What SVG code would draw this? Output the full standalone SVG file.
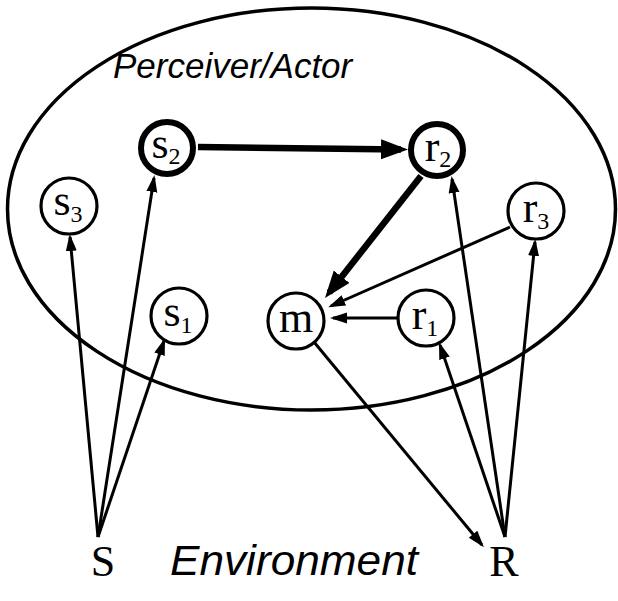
<svg xmlns="http://www.w3.org/2000/svg" width="618" height="601" viewBox="0 0 618 601">
  <style>
    .node circle { fill: #fff; stroke: #000; stroke-width: 3.2; }
    .node.bold circle { stroke-width: 6; }
    .lbl { font-family: "Liberation Serif", "Times New Roman", serif; font-size: 44px; fill: #000; text-anchor: middle; }
    .sub { font-size: 24px; }
    .title { font-family: "Liberation Sans", Arial, sans-serif; font-style: italic; fill: #000; }
    .thin { stroke: #000; stroke-width: 3; fill: none; marker-end: url(#headThin); }
    .thick { stroke: #000; stroke-width: 6.5; fill: none; marker-end: url(#headThick); }
  </style>
  <defs>
    <marker id="headThin" markerUnits="userSpaceOnUse" markerWidth="18" markerHeight="12" refX="14" refY="5.5" orient="auto">
      <path d="M0,0 L17,5.5 L0,11 z" fill="#000"/>
    </marker>
    <marker id="headThick" markerUnits="userSpaceOnUse" markerWidth="28" markerHeight="22" refX="20" refY="10" orient="auto">
      <path d="M0,0 L27,10 L0,20 z" fill="#000"/>
    </marker>
  </defs>

  <rect width="618" height="601" fill="#fff"/>

  <!-- Perceiver/Actor boundary -->
  <ellipse cx="311.5" cy="209" rx="304" ry="201" fill="none" stroke="#000" stroke-width="3.5"/>
  <text class="title" x="113" y="78" font-size="35">Perceiver/Actor</text>

  <!-- connectors -->
  <g id="connectors">
    <line class="thick" x1="198" y1="147" x2="401" y2="149.5"/>
    <line class="thick" x1="421" y1="176" x2="329.3" y2="292.5"/>
    <line class="thin" x1="510" y1="227" x2="331" y2="306"/>
    <line class="thin" x1="397" y1="318" x2="333" y2="318"/>
    <line class="thin" x1="314" y1="342" x2="482" y2="545"/>
    <line class="thin" x1="98" y1="537" x2="70" y2="237"/>
    <line class="thin" x1="98" y1="537" x2="154" y2="178"/>
    <line class="thin" x1="98" y1="537" x2="164" y2="341"/>
    <line class="thin" x1="505" y1="537" x2="440" y2="345"/>
    <line class="thin" x1="505" y1="537" x2="452" y2="179"/>
    <line class="thin" x1="505" y1="537" x2="535" y2="242"/>
  </g>

  <!-- nodes -->
  <g id="s2" class="node bold">
    <circle cx="167" cy="148" r="26"/>
    <text class="lbl" x="166" y="158">s<tspan class="sub" dy="6">2</tspan></text>
  </g>
  <g id="r2" class="node bold">
    <circle cx="437" cy="150" r="26"/>
    <text class="lbl" x="438" y="161">r<tspan class="sub" dy="6">2</tspan></text>
  </g>
  <g id="s3" class="node">
    <circle cx="69" cy="206" r="28"/>
    <text class="lbl" x="68" y="215">s<tspan class="sub" dy="7">3</tspan></text>
  </g>
  <g id="s1" class="node">
    <circle cx="179" cy="316" r="28"/>
    <text class="lbl" x="178" y="326">s<tspan class="sub" dy="7">1</tspan></text>
  </g>
  <g id="m" class="node">
    <circle cx="296" cy="321" r="28"/>
    <text class="lbl" x="296" y="332" font-size="46">m</text>
  </g>
  <g id="r1" class="node">
    <circle cx="426" cy="318" r="28"/>
    <text class="lbl" x="425" y="329">r<tspan class="sub" dy="7">1</tspan></text>
  </g>
  <g id="r3" class="node">
    <circle cx="536" cy="211" r="28"/>
    <text class="lbl" x="536" y="222">r<tspan class="sub" dy="7">3</tspan></text>
  </g>

  <!-- environment -->
  <g id="S">
    <text class="lbl" x="103" y="576" font-size="45">S</text>
  </g>
  <text class="title" x="170" y="575" font-size="42" textLength="248" lengthAdjust="spacingAndGlyphs">Environment</text>
  <g id="R">
    <text class="lbl" x="504" y="576" font-size="45">R</text>
  </g>
</svg>
